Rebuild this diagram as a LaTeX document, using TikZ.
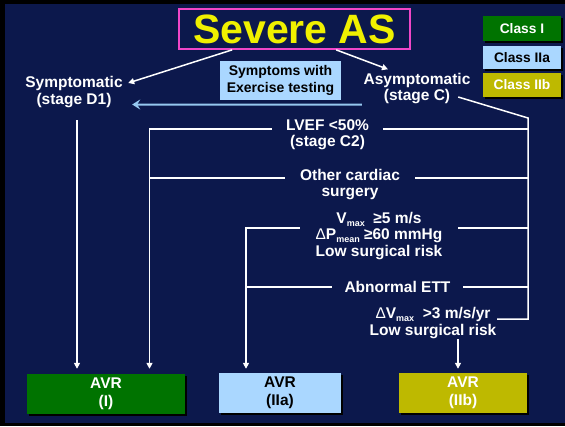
\documentclass[tikz,border=0pt]{standalone}
\usepackage{fontspec}
\setmainfont{Liberation Sans}
\usetikzlibrary{arrows.meta,shadows,calc}
\definecolor{navy}{RGB}{12,24,76}
\definecolor{cgreen}{RGB}{0,115,0}
\definecolor{lblue}{RGB}{170,215,255}
\definecolor{olive}{RGB}{190,185,0}
\definecolor{magentab}{RGB}{240,70,200}
\definecolor{tyellow}{RGB}{240,240,0}
\definecolor{barrow}{RGB}{150,200,240}
\newcommand\sbs[1]{\raisebox{-0.35ex}{\fontsize{9}{9}\selectfont #1}}
\begin{document}
\begin{tikzpicture}[x=1pt,y=-1pt,
  lbl/.style={text=white,font=\fontsize{15.5}{16.5}\selectfont\bfseries,align=center,inner sep=0pt},
  wline/.style={draw=white,line width=1.5pt},
  warrow/.style={wline,-{Triangle[length=6pt,width=6pt]}},
  shbox/.style={inner sep=0pt,align=center,drop shadow={shadow xshift=2pt,shadow yshift=-2pt,opacity=1,fill=black}},
  classbox/.style={shbox,minimum width=78pt,font=\fontsize{13.8}{13.8}\selectfont\bfseries},
  avrbox/.style={shbox,minimum height=40pt,font=\fontsize{15.5}{18}\selectfont\bfseries}
]
\useasboundingbox (0,0) rectangle (565,426);
\fill[black] (0,0) rectangle (565,426);
\fill[navy] (5,4) rectangle (565,423);

% title
\node[draw=magentab,line width=1.7pt,minimum width=231pt,minimum height=40pt,inner sep=0pt,
      text=tyellow,font=\fontsize{41}{41}\selectfont\bfseries] (title) at (294.5,29) {Severe AS};

% legend
\node[classbox,fill=cgreen,text=white,minimum height=25pt] (c1) at (522,28.5) {Class I};
\node[classbox,fill=lblue,text=black,minimum height=23pt] (c2) at (522,57.5) {Class IIa};
\node[classbox,fill=olive,text=white,minimum height=24pt] (c3) at (522,85) {Class IIb};

% top nodes
\node[lbl,minimum width=100pt,minimum height=32pt] (sym) at (74,92) {Symptomatic\\(stage D1)};
\node[lbl,minimum width=110pt,minimum height=32pt] (asym) at (417,88.5) {Asymptomatic\\(stage C)};
\node[fill=lblue,minimum width=121pt,minimum height=39pt,inner sep=0pt,align=center,
      font=\fontsize{14}{17}\selectfont\bfseries,text=black] (ex) at (280.5,80.5) {Symptoms with\\Exercise testing};

% condition labels
\node[lbl,minimum width=111pt,minimum height=30pt] (lv) at (327.5,134.5) {LVEF <50\%\\(stage C2)};
\node[lbl,minimum width=130pt,minimum height=30pt] (oc) at (350,184.5) {Other cardiac\\surgery};
\node[lbl,minimum width=158pt,minimum height=46pt] (vm) at (379,236) {V\sbs{max}\ \ ≥5 m/s\\{\mdseries Δ}P\sbs{mean} ≥60 mmHg\\Low surgical risk};
\node[lbl,minimum width=131pt,minimum height=16pt] (ett) at (397.5,287) {Abnormal ETT};
\node[lbl,minimum width=128pt,minimum height=32pt] (dv) at (433,323) {{\mdseries Δ}V\sbs{max}\ \ >3 m/s/yr\\Low surgical risk};

% outcome boxes
\node[avrbox,fill=cgreen,text=white,minimum width=158pt] (avr1) at (106,394) {AVR\\(I)};
\node[avrbox,fill=lblue,text=black,minimum width=122pt] (avr2) at (280,393) {AVR\\(IIa)};
\node[avrbox,fill=olive,text=white,minimum width=128pt] (avr3) at (463,393) {AVR\\(IIb)};

% coordinates
\coordinate (rtop) at (528,118);
\coordinate (lvL) at ([yshift=5.5pt]lv.west);
\coordinate (lvR) at ([yshift=5.5pt]lv.east);
\coordinate (ocL) at ([yshift=6.5pt]oc.west);
\coordinate (ocR) at ([yshift=6.5pt]oc.east);
\coordinate (vmL) at ([yshift=8pt]vm.west);
\coordinate (vmR) at ([yshift=8pt]vm.east);
\coordinate (dvR) at ([yshift=4pt]dv.east);
\coordinate (a0) at ([xshift=-29pt,yshift=5pt]avr1.north);
\coordinate (a1) at ([xshift=43.5pt,yshift=5pt]avr1.north);
\coordinate (a2) at ([xshift=-34pt,yshift=4pt]avr2.north);
\coordinate (a3) at ([xshift=-5pt,yshift=4pt]avr3.north);

% connectors
\draw[warrow] ([xshift=54pt]title.south west) -- ([xshift=4pt,yshift=9pt]sym.east);
\draw[warrow] ([xshift=158pt]title.south west) -- ([xshift=-29pt,yshift=3pt]asym.north);
\draw[draw=barrow,line width=2pt,-{Stealth[length=8pt,width=10pt,inset=3pt]}] (asym.south west) -- ([xshift=8pt,yshift=-12.5pt]sym.east);
\draw[wline] ([xshift=-14pt,yshift=-8.5pt]asym.east) -- (rtop) -- (rtop |- dvR) -- (dvR);
\draw[warrow] ([xshift=3pt,yshift=-12pt]sym.south) -- (a0);
\draw[warrow] (lvL) -| (a1);
\draw[wline] (ocL) -- (ocL -| a1);
\draw[wline] (lvR) -- (lvR -| rtop);
\draw[wline] (ocR) -- (ocR -| rtop);
\draw[wline] (vmR) -- (vmR -| rtop);
\draw[warrow] (vmL) -| (a2);
\draw[wline] (ett.west) -- (ett.west -| a2);
\draw[wline] (ett.east) -- (ett.east -| rtop);
\draw[warrow] ([xshift=25pt]dv.south) -- (a3);
\end{tikzpicture}
\end{document}
